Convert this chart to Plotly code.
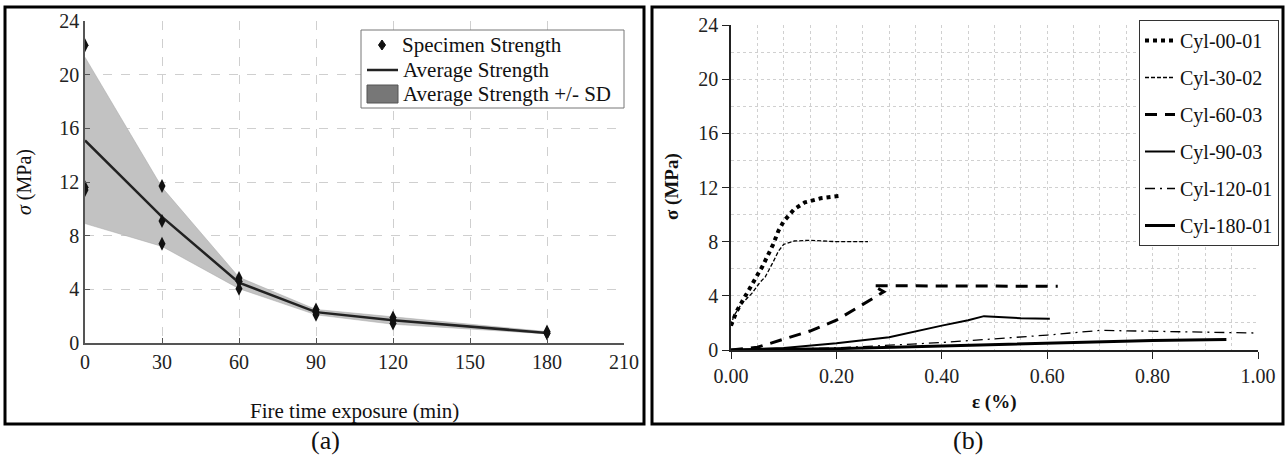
import plotly.graph_objects as go

W, H = 1285, 460

# ---------------- Panel (a) data ----------------
time_min = [0, 30, 60, 90, 120, 180]
specimen_x = [0, 0, 0, 30, 30, 30, 60, 60, 60, 90, 90, 90, 120, 120, 120, 180, 180, 180]
specimen_y = [22.2, 11.6, 11.4, 11.7, 9.1, 7.4, 4.85, 4.6, 4.05, 2.5, 2.3, 2.1, 1.9, 1.7, 1.45, 0.85, 0.75, 0.7]
avg_strength = [15.1, 9.4, 4.5, 2.3, 1.7, 0.75]
avg_plus_sd = [21.3, 11.6, 4.9, 2.5, 1.95, 0.85]
avg_minus_sd = [8.9, 7.2, 4.05, 2.1, 1.4, 0.68]
a_xticks = [0, 30, 60, 90, 120, 150, 180, 210]
a_yticks = [0, 4, 8, 12, 16, 20, 24]
a_legend_labels = ["Specimen Strength", "Average Strength", "Average Strength +/- SD"]

# ---------------- Panel (b) data ----------------
cyl00_x = [0.0, 0.005, 0.01, 0.02, 0.04, 0.06, 0.08, 0.09, 0.10, 0.12, 0.14, 0.17, 0.21]
cyl00_y = [1.8, 2.4, 2.8, 3.5, 4.8, 6.2, 7.8, 8.8, 9.5, 10.4, 10.9, 11.2, 11.4]
cyl30_x = [0.0, 0.005, 0.02, 0.04, 0.055, 0.065, 0.08, 0.09, 0.10, 0.12, 0.15, 0.20, 0.26]
cyl30_y = [1.8, 2.5, 3.4, 4.2, 5.0, 5.4, 6.5, 7.3, 7.8, 8.05, 8.1, 8.0, 8.0]
cyl60_x = [0.0, 0.05, 0.10, 0.15, 0.20, 0.25, 0.29, 0.27, 0.30, 0.45, 0.62]
cyl60_y = [0.0, 0.2, 0.8, 1.4, 2.2, 3.4, 4.3, 4.75, 4.75, 4.75, 4.7]
cyl90_x = [0.0, 0.10, 0.20, 0.30, 0.40, 0.45, 0.48, 0.50, 0.55, 0.605]
cyl90_y = [0.0, 0.15, 0.5, 0.95, 1.8, 2.2, 2.5, 2.45, 2.35, 2.3]
cyl120_x = [0.0, 0.20, 0.40, 0.50, 0.60, 0.70, 0.80, 0.90, 1.0]
cyl120_y = [0.0, 0.15, 0.55, 0.8, 1.1, 1.45, 1.4, 1.3, 1.25]
cyl180_x = [0.0, 0.20, 0.40, 0.60, 0.80, 0.94]
cyl180_y = [0.0, 0.1, 0.3, 0.5, 0.7, 0.78]
b_yticks = [0, 4, 8, 12, 16, 20, 24]
b_xticks = [0.0, 0.2, 0.4, 0.6, 0.8, 1.0]


def px(x):
    return x / W


def py(y):
    return 1 - y / H


FONT = "'Liberation Serif', 'Times New Roman', serif"
fig = go.Figure()

# ---------------- Panel (a) traces ----------------
fig.add_trace(go.Scatter(x=time_min, y=avg_plus_sd, mode="lines",
                         line=dict(color="#a8a8a8", width=0.5), showlegend=False,
                         hoverinfo="skip", xaxis="x", yaxis="y"))
fig.add_trace(go.Scatter(x=time_min, y=avg_minus_sd, mode="lines", fill="tonexty",
                         fillcolor="#c2c2c2", line=dict(color="#a8a8a8", width=0.5),
                         name=a_legend_labels[2], showlegend=False,
                         hoverinfo="skip", xaxis="x", yaxis="y"))
fig.add_trace(go.Scatter(x=time_min, y=avg_strength, mode="lines", name=a_legend_labels[1],
                         line=dict(color="#222222", width=2.5), xaxis="x", yaxis="y",
                         showlegend=False))
fig.add_trace(go.Scatter(x=specimen_x, y=specimen_y, mode="markers", name=a_legend_labels[0],
                         marker=dict(symbol="diamond-tall", size=10, color="#111111"),
                         xaxis="x", yaxis="y", showlegend=False))

# ---------------- Panel (b) traces ----------------
b_series = [
    ("Cyl-00-01", cyl00_x, cyl00_y, dict(color="black", width=4, dash="dot")),
    ("Cyl-30-02", cyl30_x, cyl30_y, dict(color="black", width=1.3, dash="4px,2px")),
    ("Cyl-60-03", cyl60_x, cyl60_y, dict(color="black", width=3, dash="12px,8px")),
    ("Cyl-90-03", cyl90_x, cyl90_y, dict(color="black", width=2)),
    ("Cyl-120-01", cyl120_x, cyl120_y, dict(color="black", width=1.3, dash="10px,5px,2px,5px")),
    ("Cyl-180-01", cyl180_x, cyl180_y, dict(color="black", width=3)),
]
for i, (nm, xs, ys, ln) in enumerate(b_series):
    fig.add_trace(go.Scatter(x=xs, y=ys, mode="lines", name=nm, line=ln,
                             xaxis="x2", yaxis="y2", legend="legend2",
                             legendgroup=nm))

tickfont_a = dict(family=FONT, size=20, color="#222")
tickfont_b = dict(family=FONT, size=20, color="#222")

fig.update_layout(
    template="none",
    width=W, height=H, autosize=False,
    margin=dict(l=0, r=0, t=0, b=0, pad=0, autoexpand=False),
    paper_bgcolor="white", plot_bgcolor="white",
    font=dict(family=FONT, color="#222"),
    xaxis=dict(domain=[px(85), px(624)], range=[0, 210], tickvals=a_xticks,
               showgrid=True, gridcolor="#cfcfcf", griddash="dash", gridwidth=1,
               showline=True, linecolor="#555", linewidth=1.5, zeroline=False,
               ticks="inside", ticklen=5, tickcolor="#555", automargin=False,
               tickfont=tickfont_a, anchor="y", fixedrange=True),
    yaxis=dict(domain=[py(343), py(21)], range=[0, 24], tickvals=a_yticks,
               showgrid=True, gridcolor="#cfcfcf", griddash="dash", gridwidth=1,
               showline=True, linecolor="#555", linewidth=1.5, zeroline=False,
               ticks="inside", ticklen=5, tickcolor="#555", automargin=False,
               tickfont=tickfont_a, anchor="x", fixedrange=True),
    xaxis2=dict(domain=[px(731), px(1258)], range=[0, 1.0], tickvals=b_xticks,
                tickformat=".2f",
                showgrid=True, gridcolor="#d0d0d0", griddash="dot", gridwidth=1,
                minor=dict(dtick=0.05, showgrid=True, gridcolor="#d0d0d0", griddash="dot"),
                showline=True, linecolor="#222", linewidth=1.5, zeroline=False,
                ticks="outside", ticklen=7, tickcolor="#222", automargin=False,
                tickfont=tickfont_b, anchor="y2", fixedrange=True),
    yaxis2=dict(domain=[py(350), py(25)], range=[0, 24], tickvals=b_yticks,
                showgrid=True, gridcolor="#d0d0d0", griddash="dot", gridwidth=1,
                minor=dict(dtick=2, showgrid=True, gridcolor="#d0d0d0", griddash="dot"),
                showline=True, linecolor="#222", linewidth=1.5, zeroline=False,
                ticks="outside", ticklen=7, tickcolor="#222", automargin=False,
                tickfont=tickfont_b, anchor="x2", fixedrange=True),
    legend2=dict(x=px(1279), xanchor="right", y=py(20), yanchor="top",
                 bgcolor="white", bordercolor="#333", borderwidth=1,
                 font=dict(family=FONT, size=20, color="#111"),
                 itemwidth=30, tracegroupgap=8, traceorder="grouped"),
    showlegend=True,
)

# frames around panels
fig.add_shape(type="rect", xref="paper", yref="paper",
              x0=px(5), x1=px(644), y0=py(424), y1=py(7),
              line=dict(color="black", width=3), layer="above")
fig.add_shape(type="rect", xref="paper", yref="paper",
              x0=px(652), x1=px(1283), y0=py(424), y1=py(7),
              line=dict(color="black", width=3), layer="above")

# ---- legend box for panel (a) (drawn as decoration) ----
fig.add_shape(type="rect", xref="paper", yref="paper",
              x0=px(361), x1=px(624), y0=py(108), y1=py(30),
              line=dict(color="#777", width=1), fillcolor="white", layer="above")
row_y = [45, 70, 94]
# diamond sample
dx, dy = 382, row_y[0]
fig.add_shape(type="path", xref="paper", yref="paper",
              path=f"M {px(dx)},{py(dy-5)} L {px(dx+3.5)},{py(dy)} L {px(dx)},{py(dy+5)} L {px(dx-3.5)},{py(dy)} Z",
              fillcolor="#111", line=dict(color="#111", width=1), layer="above")
# line sample
fig.add_shape(type="line", xref="paper", yref="paper",
              x0=px(367), x1=px(398), y0=py(row_y[1]), y1=py(row_y[1]),
              line=dict(color="#222", width=2.5), layer="above")
# band sample
fig.add_shape(type="rect", xref="paper", yref="paper",
              x0=px(367), x1=px(398), y0=py(row_y[2] + 9), y1=py(row_y[2] - 9),
              fillcolor="#777", line=dict(color="#555", width=1), layer="above")
for lbl, yy, xx in zip(a_legend_labels, row_y, [400, 401, 401]):
    fig.add_annotation(text=lbl, x=px(xx), y=py(yy), xref="paper", yref="paper",
                       xanchor="left", yanchor="middle", showarrow=False,
                       font=dict(family=FONT, size=21, color="#111"))

ann = [
    dict(text="<i>σ</i> (MPa)", x=px(25), y=py(182), textangle=-90, size=20),
    dict(text="Fire time exposure (min)", x=px(354), y=py(411), textangle=0, size=21),
    dict(text="(a)", x=px(325), y=py(440), textangle=0, size=26),
    dict(text="<b>σ (MPa)</b>", x=px(672), y=py(187), textangle=-90, size=19),
    dict(text="<b>ε (%)</b>", x=px(994), y=py(402), textangle=0, size=19),
    dict(text="(b)", x=px(968), y=py(440), textangle=0, size=26),
]
for a in ann:
    fig.add_annotation(text=a["text"], x=a["x"], y=a["y"], xref="paper", yref="paper",
                       xanchor="center", yanchor="middle", showarrow=False,
                       textangle=a["textangle"],
                       font=dict(family=FONT, size=a["size"], color="#111"))

fig.write_html("out.html", config={"displayModeBar": False},
               post_script="document.body.style.margin='0px';document.body.style.overflow='hidden';")
